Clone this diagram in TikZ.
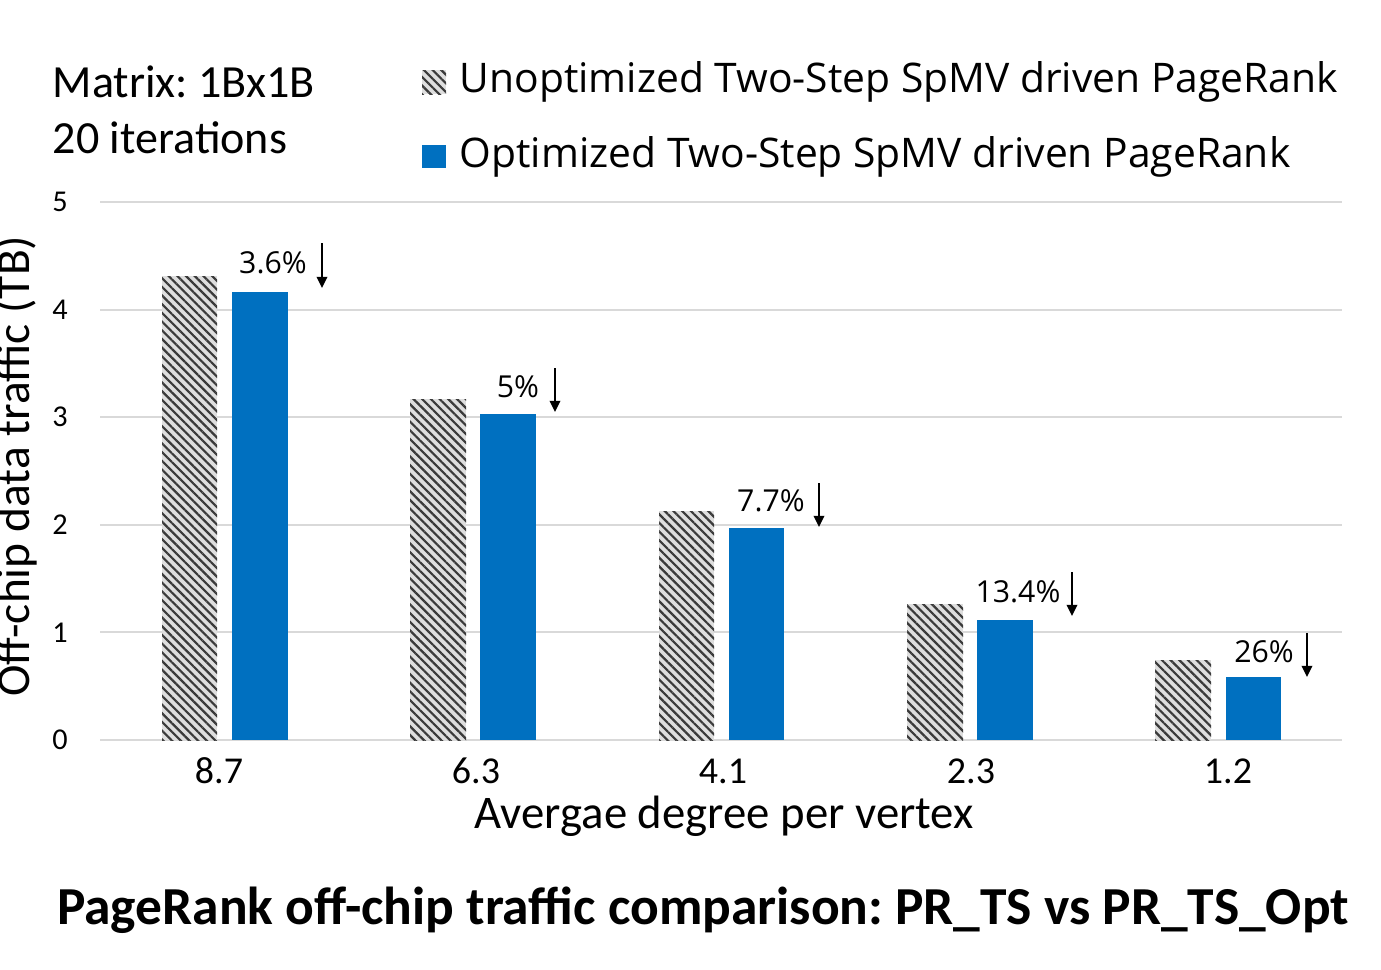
\documentclass[tikz,border=0pt]{standalone}
\usepackage{fontspec}
\setmainfont{Carlito}
\newfontfamily\legfont{Open Sans}
\usetikzlibrary{patterns.meta,arrows.meta}
\frenchspacing
\definecolor{optblue}{HTML}{0070C0}
\definecolor{gridgray}{HTML}{D9D9D9}
\definecolor{hatchbg}{HTML}{DEDEDE}
\definecolor{hatchfg}{HTML}{3A3A3A}
\tikzset{
  unopt/.style={fill=hatchbg, postaction={pattern={Lines[angle=-45,distance=1.75pt,line width=0.62pt]}, pattern color=hatchfg}},
  opt/.style={fill=optblue},
  grid line/.style={draw=gridgray, line width=0.6pt},
  tick/.style={font=\fontsize{8.6}{10}\selectfont, anchor=center},
  cat/.style={font=\fontsize{10.8}{12}\selectfont, anchor=center},
  pct/.style={font=\legfont\fontsize{8.6}{10}\selectfont, anchor=center},
  downarr/.style={draw=black, line width=0.55pt, -{Triangle[width=3pt,length=3.2pt]}},
  legtext/.style={font=\legfont\fontsize{11.6}{13}\selectfont, anchor=west, inner sep=0pt},
  info/.style={font=\fontsize{13.1}{15}\selectfont, anchor=west, inner sep=0pt},
}
\begin{document}
\begin{tikzpicture}[x=0.01cm,y=-0.01cm]
\useasboundingbox (0,0) rectangle (1381,969);
\clip (0,0) rectangle (1381,969);
% grid
\foreach \v/\py in {0/740,1/632.4,2/524.8,3/417.2,4/309.6,5/202} {
  \draw[grid line] (100,\py) -- (1342,\py);
  \node[tick] (t\v) at (60,\py) {\v};
}
% y axis title (cut at the left edge, as in the reference)
\node[font=\fontsize{13.5}{15}\selectfont, rotate=90, anchor=base] (ytitle) at (29,466) {Off-chip data traffic (TB)};
% bars
\path[unopt] (162,740) rectangle (217,276);
\path[opt]   (232,740) rectangle (288,292);
\path[unopt] (410,740) rectangle (466,399);
\path[opt]   (480,740) rectangle (536,414);
\path[unopt] (659,740) rectangle (714,511);
\path[opt]   (729,740) rectangle (784,528);
\path[unopt] (907,740) rectangle (963,604);
\path[opt]   (977,740) rectangle (1033,620);
\path[unopt] (1155,740) rectangle (1211,660);
\path[opt]   (1226,740) rectangle (1281,677);
% percent labels
\node[pct] (p1) at (273,263) {3.6\%};
\node[pct] (p2) at (518,387) {5\%};
\node[pct] (p3) at (771,501) {7.7\%};
\node[pct] (p4) at (1018,592) {13.4\%};
\node[pct] (p5) at (1264,652) {26\%};
\coordinate (a1s) at (322,243); \coordinate (a1e) at (322,288);
\coordinate (a2s) at (555,368); \coordinate (a2e) at (555,412);
\coordinate (a3s) at (819,483); \coordinate (a3e) at (819,527);
\coordinate (a4s) at (1072,572); \coordinate (a4e) at (1072,616);
\coordinate (a5s) at (1307,633); \coordinate (a5e) at (1307,677);
\foreach \i in {1,...,5} { \draw[downarr] (a\i s) -- (a\i e); }
% category labels
\node[cat] (c1) at (219,771) {8.7};
\node[cat] (c2) at (476,771) {6.3};
\node[cat] (c3) at (723,771) {4.1};
\node[cat] (c4) at (971,771) {2.3};
\node[cat] (c5) at (1228,771) {1.2};
\node[font=\fontsize{13.3}{15}\selectfont, anchor=center] (xtitle) at (724,816) {Avergae degree per vertex};
% info
\node[info] (m1) at (52,82) {Matrix: 1Bx1B};
\node[info] (m2) at (52,138) {20 iterations};
% legend
\path[unopt] (422,70) rectangle (446,94);
\node[legtext] (l1) at (459,82) {Unoptimized Two-Step SpMV driven PageRank};
\path[opt] (422,145) rectangle (446,168);
\node[legtext] (l2) at (459,157) {Optimized Two-Step SpMV driven PageRank};
% title
\node[font=\bfseries\fontsize{15.2}{17}\selectfont, anchor=center] (title) at (703,910) {PageRank off-chip traffic comparison: PR\_TS vs PR\_TS\_Opt};
\end{tikzpicture}
\end{document}
